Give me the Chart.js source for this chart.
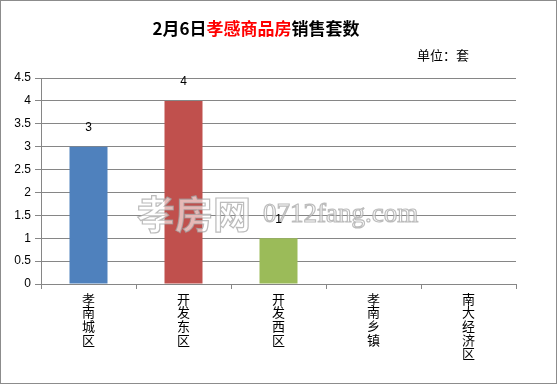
<!DOCTYPE html>
<html>
<head>
<meta charset="utf-8">
<script src="https://cdn.jsdelivr.net/npm/chart.js@4"></script>
<style>
  html, body { margin: 0; padding: 0; background: #fff; }
  #wrap { position: relative; width: 557px; height: 384px; }
</style>
</head>
<body>
<div id="wrap"><canvas id="c" width="557" height="384"></canvas></div>
<script>
// chart data
var categories = ['孝南城区', '开发东区', '开发西区', '孝南乡镇', '南大经济区'];
var sales = [3, 4, 1, 0, 0];
var barColors = ['#4F81BD', '#C0504D', '#9BBB59', '#8064A2', '#4BACC6'];
var yTicks = [0, 0.5, 1, 1.5, 2, 2.5, 3, 3.5, 4, 4.5];

var CJK = '"Noto Sans CJK SC", "Liberation Sans", sans-serif';
var NUM = '"Liberation Sans", "Noto Sans CJK SC", sans-serif';

// one character per line, like the vertical text in the original
var verticalLabels = categories.map(function(s) { return s.split(''); });

// title, unit, watermark, value labels, frame
var decorations = {
  id: 'decorations',
  afterDraw: function(chart) {
    var ctx = chart.ctx;
    ctx.save();

    // title with red middle part
    var parts = [['2月6日', '#000'], ['孝感商品房', '#FF0000'], ['销售套数', '#000']];
    ctx.font = 'bold 17px ' + CJK;
    ctx.textBaseline = 'middle';
    ctx.textAlign = 'left';
    var total = 0;
    parts.forEach(function(p) { total += ctx.measureText(p[0]).width; });
    var x = 256 - total / 2;
    parts.forEach(function(p) {
      ctx.fillStyle = p[1];
      ctx.fillText(p[0], x, 29);
      x += ctx.measureText(p[0]).width;
    });

    // unit
    ctx.font = '13px ' + CJK;
    ctx.fillStyle = '#000';
    ctx.textAlign = 'left';
    ctx.fillText('单位：套', 417, 55);

    // watermark
    ctx.textBaseline = 'alphabetic';
    ctx.lineWidth = 1.2;
    ctx.strokeStyle = 'rgba(160,160,160,0.7)';
    ctx.fillStyle = 'rgba(255,255,255,0.6)';
    ctx.font = 'bold 38px ' + CJK;
    ctx.fillText('孝房网', 137, 228);
    ctx.strokeText('孝房网', 137, 228);
    ctx.font = '27px "Liberation Serif", serif';
    ctx.fillText('0712fang.com', 263, 222);
    ctx.strokeText('0712fang.com', 263, 222);

    // value labels
    var meta = chart.getDatasetMeta(0);
    ctx.font = '12px ' + NUM;
    ctx.fillStyle = '#000';
    ctx.textAlign = 'center';
    ctx.textBaseline = 'middle';
    meta.data.forEach(function(bar, i) {
      var v = sales[i];
      if (!v) return;
      ctx.fillText(String(v), bar.x, bar.y - 19);
    });

    // outer frame
    ctx.strokeStyle = '#8c8c8c';
    ctx.lineWidth = 1;
    ctx.strokeRect(0.5, 0.5, chart.width - 1, chart.height - 1);
    ctx.restore();
  }
};

new Chart(document.getElementById('c'), {
  type: 'bar',
  data: {
    labels: verticalLabels,
    datasets: [{
      data: sales,
      backgroundColor: barColors,
      borderWidth: 0,
      barPercentage: 0.4,
      categoryPercentage: 1
    }]
  },
  options: {
    responsive: false,
    animation: false,
    layout: { padding: { top: 78, right: 41, left: 0, bottom: 0 } },
    plugins: {
      legend: { display: false },
      tooltip: { enabled: false }
    },
    scales: {
      x: {
        afterFit: function(scale) { scale.height = 100; },
        border: { color: '#868686' },
        grid: { offset: true, drawOnChartArea: false, drawTicks: true, tickLength: 5, color: '#868686' },
        ticks: {
          maxRotation: 0,
          autoSkip: false,
          padding: 3,
          color: '#000',
          font: { family: CJK, size: 13, lineHeight: 1.05 }
        }
      },
      y: {
        min: 0,
        max: 4.5,
        afterFit: function(scale) { scale.width = 41; },
        afterBuildTicks: function(scale) {
          scale.ticks = yTicks.map(function(v) { return { value: v }; });
        },
        border: { color: '#868686' },
        grid: { color: '#868686', tickLength: 6 },
        ticks: {
          padding: 4,
          color: '#000',
          font: { family: NUM, size: 12 },
          callback: function(v) { return String(v); }
        }
      }
    }
  },
  plugins: [decorations]
});
</script>
</body>
</html>
